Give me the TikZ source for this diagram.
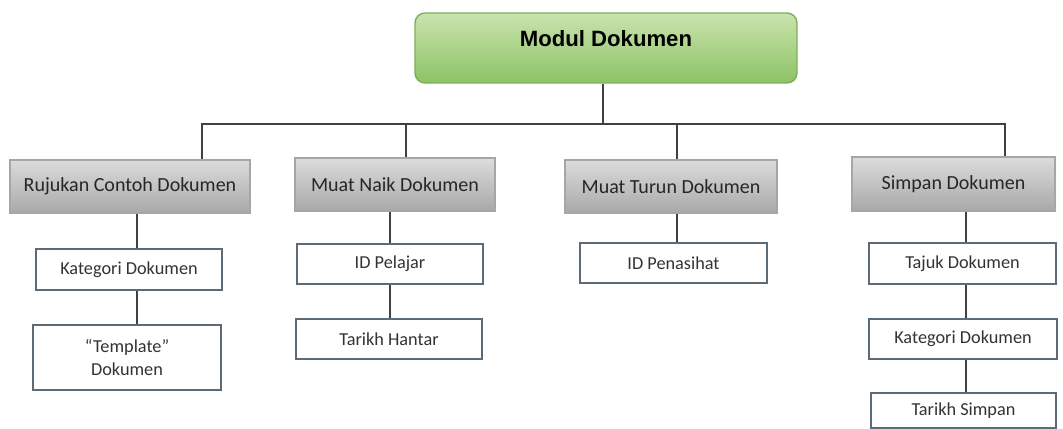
\documentclass[tikz,border=0pt]{standalone}
\usepackage{fontspec}
\setmainfont{Carlito}
\newfontfamily\titlefont{Liberation Sans}
\definecolor{linegray}{HTML}{404040}
\definecolor{boxedge}{HTML}{5B6B78}
\definecolor{greenedge}{HTML}{7DAF5A}
\definecolor{greentop}{HTML}{C9E3AE}
\definecolor{greenbot}{HTML}{8DC365}
\definecolor{graytop}{HTML}{DCDCDC}
\definecolor{graybot}{HTML}{A8A8A8}
\newcommand{\px}{0.02cm}
\begin{document}
\begin{tikzpicture}[x=0.02cm, y=-0.02cm,
    conn/.style={draw=linegray, line width=0.75pt},
    titlebox/.style={draw=greenedge, line width=0.8pt, rounded corners=0.2cm,
        top color=greentop, bottom color=greenbot, inner sep=0pt},
    mainbox/.style={draw=gray!70, line width=0.6pt, top color=graytop, bottom color=graybot,
        inner sep=0pt, text=black!85, font=\fontsize{11.4}{13}\selectfont},
    subbox/.style={draw=boxedge, line width=0.6pt, fill=white, inner sep=0pt, align=center,
        text=black!80, font=\fontsize{10.4}{13}\selectfont}]
    \useasboundingbox (0,0) rectangle (1063,429);

    % top
    \node[titlebox, minimum width=382*\px, minimum height=70*\px] (modul) at (606,48) {};
    \node[font=\titlefont\bfseries\fontsize{12.6}{15}\selectfont] (modultxt) at (606,39) {Modul Dokumen};

    % second level
    \node[mainbox, minimum width=240*\px, minimum height=53*\px] (rujukan) at (130,186.5) {Rujukan Contoh Dokumen};
    \node[mainbox, minimum width=200*\px, minimum height=53*\px] (muatnaik) at (395,184.5) {Muat Naik Dokumen};
    \node[mainbox, minimum width=212*\px, minimum height=53*\px] (muatturun) at (671,186.5) {Muat Turun Dokumen};
    \node[mainbox, minimum width=203*\px, minimum height=54*\px] (simpan) at (953.5,184) {Simpan Dokumen};

    % third level
    \node[subbox, minimum width=186*\px, minimum height=41*\px] (kategori1) at (129,269.5) {Kategori Dokumen};
    \node[subbox, minimum width=188*\px, minimum height=65*\px] (template) at (127,357.5) {“Template”\\Dokumen};
    \node[subbox, minimum width=186*\px, minimum height=40*\px] (idpelajar) at (390,264) {ID Pelajar};
    \node[subbox, minimum width=186*\px, minimum height=40*\px] (hantar) at (389,339) {Tarikh Hantar};
    \node[subbox, minimum width=187*\px, minimum height=40*\px] (idpenasihat) at (673.5,263) {ID Penasihat};
    \node[subbox, minimum width=187*\px, minimum height=41*\px] (tajuk) at (962.5,263.5) {Tajuk Dokumen};
    \node[subbox, minimum width=188*\px, minimum height=40*\px] (kategori2) at (963,339) {Kategori Dokumen};
    \node[subbox, minimum width=185*\px, minimum height=35*\px] (simpantarikh) at (963.5,410.5) {Tarikh Simpan};

    % bus
    \coordinate (b0) at (603,124);
    \coordinate (b1) at (202,124);
    \coordinate (b2) at (406,124);
    \coordinate (b3) at (677,124);
    \coordinate (b4) at (1005,124);
    \draw[conn] (modul.south -| b0) -- (b0);
    \draw[conn] (b1 |- rujukan.north) -- (b1) -- (b4) -- (b4 |- simpan.north);
    \draw[conn] (b2) -- (b2 |- muatnaik.north);
    \draw[conn] (b3) -- (b3 |- muatturun.north);

    % down the columns
    \coordinate (c1) at (137,0);
    \coordinate (c2) at (390,0);
    \coordinate (c3) at (677,0);
    \coordinate (c4) at (966,0);
    \draw[conn] (c1 |- rujukan.south) -- (c1 |- kategori1.north);
    \draw[conn] (c1 |- kategori1.south) -- (c1 |- template.north);
    \draw[conn] (c2 |- muatnaik.south) -- (c2 |- idpelajar.north);
    \draw[conn] (c2 |- idpelajar.south) -- (c2 |- hantar.north);
    \draw[conn] (c3 |- muatturun.south) -- (c3 |- idpenasihat.north);
    \draw[conn] (c4 |- simpan.south) -- (c4 |- tajuk.north);
    \draw[conn] (c4 |- tajuk.south) -- (c4 |- kategori2.north);
    \draw[conn] (c4 |- kategori2.south) -- (c4 |- simpantarikh.north);
\end{tikzpicture}
\end{document}
